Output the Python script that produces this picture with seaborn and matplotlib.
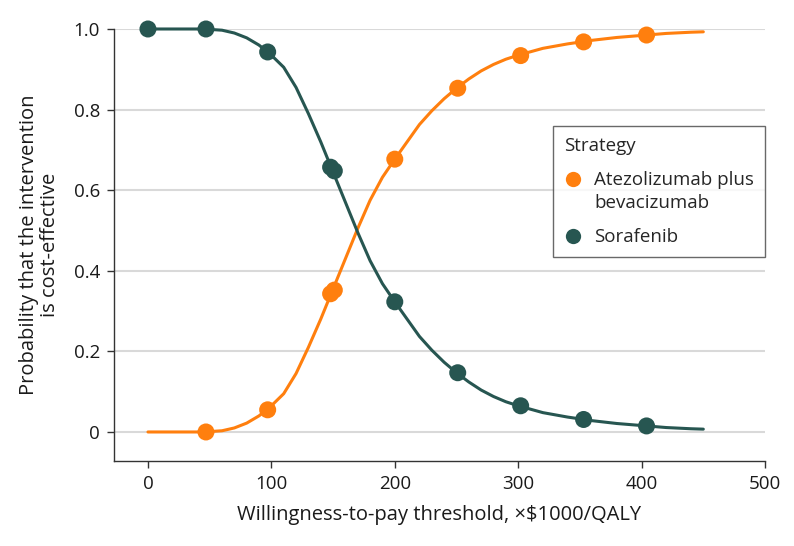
import numpy as np
import pandas as pd
import matplotlib
matplotlib.use("Agg")
import matplotlib.pyplot as plt
import seaborn as sns
from matplotlib.lines import Line2D
from matplotlib.legend_handler import HandlerLine2D

strategies = ["Atezolizumab plus\nbevacizumab", "Sorafenib"]
colors = ["#FF7F0E", "#275651"]

# smooth curve samples (x in $1000/QALY)
curve_x = [0, 20, 40, 50, 60, 70, 80, 90, 100, 110, 120, 130, 140, 150, 160, 170,
           180, 190, 200, 210, 220, 230, 240, 250, 260, 270, 280, 290, 300, 320,
           340, 360, 380, 400, 420, 440, 450]
curve_sora = [1.0, 1.0, 1.0, 0.999, 0.997, 0.99, 0.978, 0.96, 0.935, 0.905, 0.855,
              0.79, 0.72, 0.645, 0.57, 0.495, 0.425, 0.368, 0.323, 0.28, 0.237,
              0.203, 0.173, 0.147, 0.124, 0.104, 0.088, 0.075, 0.065, 0.048,
              0.037, 0.028, 0.021, 0.016, 0.011, 0.008, 0.007]
curve_atezo = [1 - v for v in curve_sora]

# highlighted points
pts_x_atezo = [47, 97, 148, 151, 200, 251, 302, 353, 404]
pts_y_atezo = [0.0, 0.055, 0.343, 0.352, 0.677, 0.853, 0.934, 0.968, 0.985]
pts_x_sora = [0, 47, 97, 148, 151, 200, 251, 302, 353, 404]
pts_y_sora = [1.0, 1.0, 0.943, 0.657, 0.648, 0.323, 0.147, 0.065, 0.031, 0.015]

xticks = [0, 100, 200, 300, 400, 500]
yticks = [0, 0.2, 0.4, 0.6, 0.8, 1.0]
ytick_labels = ["0", "0.2", "0.4", "0.6", "0.8", "1.0"]

sns.set_style("white")
plt.rcParams["font.family"] = ["Open Sans", "DejaVu Sans"]

curves = pd.DataFrame({
    "x": curve_x * 2,
    "y": curve_atezo + curve_sora,
    "Strategy": [strategies[0]] * len(curve_x) + [strategies[1]] * len(curve_x),
})
points = pd.DataFrame({
    "x": pts_x_atezo + pts_x_sora,
    "y": pts_y_atezo + pts_y_sora,
    "Strategy": [strategies[0]] * len(pts_x_atezo) + [strategies[1]] * len(pts_x_sora),
})
pal = dict(zip(strategies, colors))

fig = plt.figure(figsize=(7.94, 5.46), dpi=100)
ax = fig.add_axes([0.1436, 0.1557, 0.8199, 0.7912])

ax.set_axisbelow(True)
ax.yaxis.grid(True, color="#d9d9d9", linewidth=1.5)
ax.xaxis.grid(False)

sns.lineplot(data=curves, x="x", y="y", hue="Strategy", palette=pal, ax=ax,
             linewidth=2.2, legend=False, clip_on=False)
sns.scatterplot(data=points, x="x", y="y", hue="Strategy", palette=pal, ax=ax,
                s=150, edgecolor="none", legend=False, clip_on=False, zorder=5)

ax.set_xlim(-27.5, 500)
ax.set_ylim(-0.072, 1.0)
ax.set_xticks(xticks)
ax.set_xticklabels([str(t) for t in xticks])
ax.set_yticks(yticks)
ax.set_yticklabels(ytick_labels)
ax.tick_params(axis="both", direction="out", length=5, width=1, color="#333333",
               labelsize=13.5, labelcolor="#1a1a1a", bottom=True, left=True, pad=5)
for s in ["top", "right"]:
    ax.spines[s].set_visible(False)
for s in ["left", "bottom"]:
    ax.spines[s].set_color("#333333")
    ax.spines[s].set_linewidth(1)

ax.set_xlabel("Willingness-to-pay threshold, ×$1000/QALY", fontsize=14.5,
              color="#1a1a1a", labelpad=9)
ax.set_ylabel("Probability that the intervention\nis cost-effective", fontsize=14.5,
              color="#1a1a1a", labelpad=10, linespacing=1.05)


class ShiftedHandler(HandlerLine2D):
    def __init__(self, dy=0.0, **kw):
        super().__init__(**kw)
        self.dy = dy

    def create_artists(self, legend, orig_handle, xdescent, ydescent, width,
                       height, fontsize, trans):
        arts = super().create_artists(legend, orig_handle, xdescent, ydescent,
                                      width, height, fontsize, trans)
        for a in arts:
            x, y = a.get_data()
            a.set_data(x, [v + self.dy for v in y])
        return arts


handles = [Line2D([0], [0], marker="o", linestyle="none", markersize=11,
                  markerfacecolor=c, markeredgecolor="none") for c in colors]
leg = ax.legend(handles, strategies, title="Strategy", loc="upper right",
                bbox_to_anchor=(1.0, 0.775), borderaxespad=0, fontsize=13.5,
                title_fontsize=13.5, frameon=True, fancybox=False, alignment="left",
                handletextpad=0.6, labelspacing=0.85, borderpad=0.6,
                handlelength=1.0,
                handler_map={handles[0]: ShiftedHandler(dy=9.5),
                             handles[1]: HandlerLine2D()})
leg.get_frame().set_edgecolor("#444444")
leg.get_frame().set_linewidth(1)
for t in leg.get_texts():
    t.set_linespacing(1.35)

fig.savefig("out.png", dpi=100)
